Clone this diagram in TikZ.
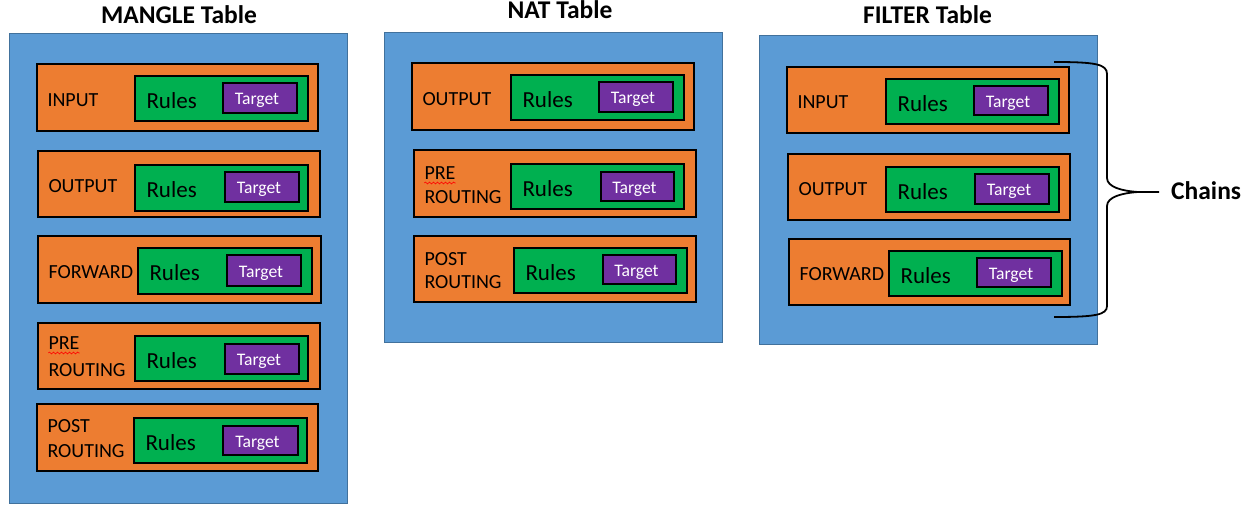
\documentclass[tikz,border=0pt]{standalone}
\usepackage{fontspec}
\setmainfont{Carlito}
\usetikzlibrary{fit,decorations.pathmorphing}
\definecolor{bluefill}{HTML}{5B9BD5}
\definecolor{blueedge}{HTML}{41719C}
\definecolor{orangefill}{HTML}{ED7D31}
\definecolor{greenfill}{HTML}{00B050}
\definecolor{purplefill}{HTML}{7030A0}
\newcommand\chainboxes[4]{%
  \node[obox, fit={#2}] (#1) {};
  \node[gbox, fit={#3}] (#1r) {};
  \node[pbox, fit={#4}] (#1t) {};
  \node[rl, anchor=base west, xshift=12pt, yshift=-9.5pt] (#1rt) at (#1r.west) {Rules};
  \node[tg, anchor=base, xshift=-3pt, yshift=-6.7pt] (#1tt) at (#1t.center) {Target};
}
\begin{document}
\begin{tikzpicture}[x=1pt,y=-1pt,
  tablebox/.style={draw=blueedge, fill=bluefill, line width=0.8pt, inner sep=0pt},
  obox/.style={draw=black, fill=orangefill, line width=1.4pt, inner sep=0pt},
  gbox/.style={draw=black, fill=greenfill, line width=1.4pt, inner sep=0pt},
  pbox/.style={draw=black, fill=purplefill, line width=1.4pt, inner sep=0pt},
  lbl/.style={inner sep=0pt, font=\fontsize{20}{24}\selectfont},
  rl/.style={inner sep=0pt, font=\fontsize{23}{27}\selectfont},
  tg/.style={inner sep=0pt, text=white, font=\fontsize{17.6}{20}\selectfont},
  ttl/.style={inner sep=0pt, font=\bfseries\fontsize{25.5}{30}\selectfont},
  squiggle/.style={draw=red, line width=0.6pt, decorate, decoration={snake, amplitude=0.9pt, segment length=4pt}},
  bracel/.style={draw=black, line width=1.8pt}]
\useasboundingbox (0,0) rectangle (1247,511);
\fill[white] (0,0) rectangle (1247,511);

% titles
\node[ttl, anchor=base] (tM) at (179,23.5) {MANGLE Table};
\node[ttl, anchor=base] (tN) at (560,19) {NAT Table};
\node[ttl, anchor=base] (tF) at (927.5,24) {FILTER Table};

% MANGLE
\node[tablebox, fit={(9,33)(347,503)}] (mangle) {};
\chainboxes{mA}{(37,64)(318,131)}{(135,76)(308,121)}{(223,83)(297,113)}
\chainboxes{mB}{(38,151)(320,217)}{(135,165)(308,211)}{(225,172)(299,202)}
\chainboxes{mC}{(38,236)(321,303)}{(138,248)(312,294)}{(227,255)(301,286)}
\chainboxes{mD}{(38,323)(320,389)}{(135,336)(308,381)}{(225,344)(299,374)}
\chainboxes{mE}{(37,404)(318,471)}{(134,418)(307,463)}{(223,426)(298,455)}
\node[lbl, anchor=base west, xshift=11pt, yshift=-8.5pt] (mAl) at (mA.west) {INPUT};
\node[lbl, anchor=base west, xshift=11pt, yshift=-8.5pt] (mBl) at (mB.west) {OUTPUT};
\node[lbl, anchor=base west, xshift=11pt, yshift=-8.5pt] (mCl) at (mC.west) {FORWARD};
\node[lbl, anchor=base west, xshift=11pt, yshift=6.5pt] (mDl) at (mD.west) {PRE};
\node[lbl, anchor=base west, xshift=11pt, yshift=-20pt] (mDm) at (mD.west) {ROUTING};
\node[lbl, anchor=base west, xshift=11pt, yshift=5pt] (mEl) at (mE.west) {POST};
\node[lbl, anchor=base west, xshift=11pt, yshift=-20pt] (mEm) at (mE.west) {ROUTING};
\draw[squiggle] ([yshift=-3.5pt]mDl.base west) -- ([yshift=-3.5pt]mDl.base east);

% NAT
\node[tablebox, fit={(384,32)(722,342)}] (nat) {};
\chainboxes{nA}{(412,63)(694,130)}{(511,75)(684,120)}{(599,82)(673,112)}
\chainboxes{nB}{(414,150)(696,217)}{(511,164)(684,209)}{(601,172)(674,201)}
\chainboxes{nC}{(414,236)(696,302)}{(514,248)(687,293)}{(603,255)(676,284)}
\node[lbl, anchor=base west, xshift=11pt, yshift=-8.5pt] (nAl) at (nA.west) {OUTPUT};
\node[lbl, anchor=base west, xshift=11pt, yshift=4pt] (nBl) at (nB.west) {PRE};
\node[lbl, anchor=base west, xshift=11pt, yshift=-20pt] (nBm) at (nB.west) {ROUTING};
\node[lbl, anchor=base west, xshift=11pt, yshift=4pt] (nCl) at (nC.west) {POST};
\node[lbl, anchor=base west, xshift=11pt, yshift=-19pt] (nCm) at (nC.west) {ROUTING};
\draw[squiggle] ([yshift=-3.5pt]nBl.base west) -- ([yshift=-3.5pt]nBl.base east);

% FILTER
\node[tablebox, fit={(759,35)(1097,344)}] (filter) {};
\chainboxes{fA}{(787,67)(1069,133)}{(886,79)(1059,124)}{(974,86)(1048,115)}
\chainboxes{fB}{(788,154)(1070,220)}{(886,167)(1059,212)}{(975,174)(1049,204)}
\chainboxes{fC}{(789,239)(1070,305)}{(889,251)(1062,296)}{(977,258)(1051,287)}
\node[lbl, anchor=base west, xshift=11pt, yshift=-8.5pt] (fAl) at (fA.west) {INPUT};
\node[lbl, anchor=base west, xshift=11pt, yshift=-8.5pt] (fBl) at (fB.west) {OUTPUT};
\node[lbl, anchor=base west, xshift=11pt, yshift=-8.5pt] (fCl) at (fC.west) {FORWARD};

% brace and Chains
\coordinate (bTop) at (1054,62);
\coordinate (bBot) at (1054,317);
\coordinate (bCusp) at (1138,192);
\coordinate (bTip) at (1159,192);
\draw[bracel] (bTop) .. controls (1095,62) and (1107,64) .. (1107,74) -- (1107,178)
  .. controls (1107,187) and (1122,191) .. (bCusp) -- (bTip);
\draw[bracel] (bCusp) .. controls (1122,193) and (1107,197) .. (1107,206) -- (1107,306)
  .. controls (1107,315) and (1095,317) .. (bBot);
\node[ttl, anchor=base west] (chains) at (1171,199) {Chains};
\end{tikzpicture}
\end{document}
